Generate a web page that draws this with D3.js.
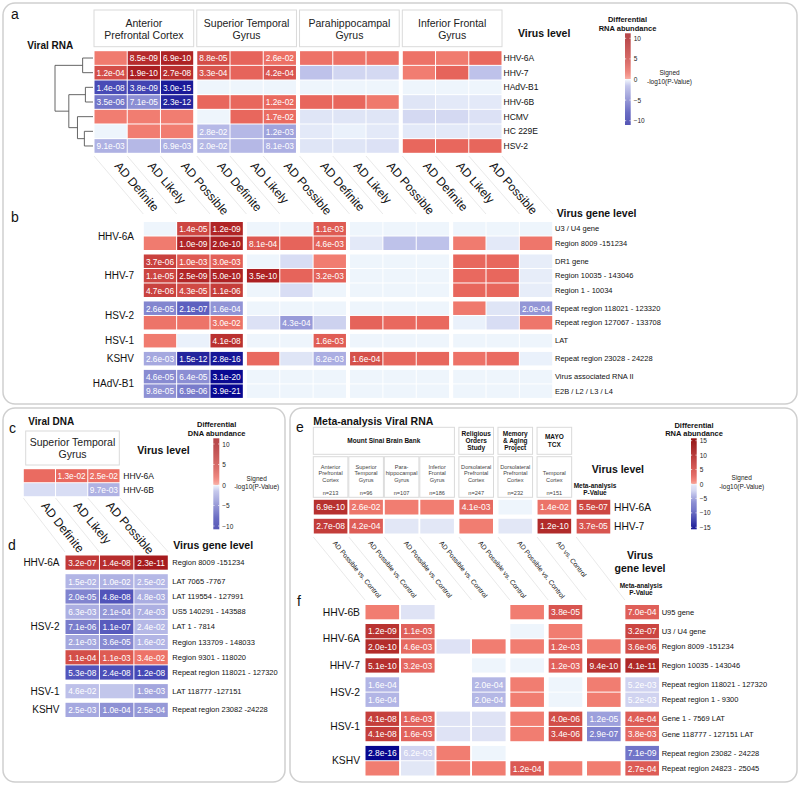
<!DOCTYPE html>
<html><head><meta charset="utf-8">
<script src="https://cdn.jsdelivr.net/npm/d3@7"></script>
<style>body{margin:0;background:#fff}svg{display:block;font-family:"Liberation Sans",Arial,Helvetica,sans-serif}</style>
</head><body><svg id="c" width="800" height="785"></svg>
<script>
// ---------------- DATA ----------------
const regions = ["Anterior\nPrefrontal Cortex", "Superior Temporal\nGyrus", "Parahippocampal\nGyrus", "Inferior Frontal\nGyrus"];
const diagnoses = ["AD Definite", "AD Likely", "AD Possible"];

// panel a : virus level, viral RNA
const virusesA = ["HHV-6A", "HHV-7", "HAdV-B1", "HHV-6B", "HCMV", "HC 229E", "HSV-2"];
const valuesA = [
  [1.1, 8.07, 9.16, 4.06, 2.2, 1.59, 1.5, 1.5, 1.5, 1.5, 1.1, 1.9],
  [3.92, 9.72, 7.57, 3.48, 2.2, 3.38, -1.3, -0.8, -0.7, 1.0, 2.2, -1.3],
  [-7.85, -8.42, -14.52, 0, 0, 0, 0, 0, 0, 0, 0, 0],
  [-5.46, -4.15, -11.64, 2.0, 2.0, 1.92, 2.0, 2.0, 1.2, -0.4, -0.3, -0.3],
  [1.0, 1.0, 1.0, 0, 2.0, 1.77, -0.4, -0.4, -0.4, -0.7, -0.7, -0.5],
  [0, 1.0, 1.0, -1.55, -1.6, -2.92, -0.3, -0.1, -0.3, -0.3, -0.3, -0.3],
  [-2.04, -1.6, -2.16, -1.7, -1.6, -2.09, -0.4, -0.4, -0.5, 2.0, 2.0, 2.1]
];
const labelsA = [
  ["", "8.5e-09", "6.9e-10", "8.8e-05", "", "2.6e-02", "", "", "", "", "", ""],
  ["1.2e-04", "1.9e-10", "2.7e-08", "3.3e-04", "", "4.2e-04", "", "", "", "", "", ""],
  ["1.4e-08", "3.8e-09", "3.0e-15", "", "", "", "", "", "", "", "", ""],
  ["3.5e-06", "7.1e-05", "2.3e-12", "", "", "1.2e-02", "", "", "", "", "", ""],
  ["", "", "", "", "", "1.7e-02", "", "", "", "", "", ""],
  ["", "", "", "2.8e-02", "", "1.2e-03", "", "", "", "", "", ""],
  ["9.1e-03", "", "6.9e-03", "2.0e-02", "", "8.1e-03", "", "", "", "", "", ""]
];
// dendrogram of panel a rows (merge heights)
const dendroA = {h: 1.1, children: [
  {h: 0.3, children: [{leaf: "HHV-6A"}, {leaf: "HHV-7"}]},
  {h: 0.7, children: [
    {h: 0.22, children: [{leaf: "HAdV-B1"}, {leaf: "HHV-6B"}]},
    {h: 0.45, children: [{leaf: "HCMV"}, {h: 0.25, children: [{leaf: "HC 229E"}, {leaf: "HSV-2"}]}]}
  ]}
]};

// panel b : virus gene level
const genesB = ["U3 / U4 gene", "Region 8009 -151234", "DR1 gene", "Region 10035 - 143046", "Region 1 - 10034",
  "Repeat region 118021 - 123320", "Repeat region 127067 - 133708", "LAT", "Repeat region 23028 - 24228",
  "Virus associated RNA II", "E2B / L2 / L3 / L4"];
const geneVirusB = ["HHV-6A", "HHV-6A", "HHV-7", "HHV-7", "HHV-7", "HSV-2", "HSV-2", "HSV-1", "KSHV", "HAdV-B1", "HAdV-B1"];
const valuesB = [
  [0, 4.85, 8.92, 0, 0, 2.96, 0, 0, 0, 0, 0, 0],
  [1.1, 9.0, 9.7, 3.09, 2.2, 2.34, -0.3, -1.3, -1.3, 1.1, -0.3, 1.3],
  [5.43, 3.0, 2.52, 0, -0.6, 1.0, 0, 0, 0, 2.0, 2.0, -0.2],
  [4.96, 8.6, 9.3, 9.46, 2.2, 2.49, 0, 0, 0, 1.9, 2.0, -0.2],
  [5.33, 4.37, 5.96, 0, -0.6, 0, 0, 0, 0, 2.0, 2.0, -0.2],
  [-4.59, -6.68, -3.8, 0, 0, 0, 0, 0, 0, 1.2, -0.4, -3.7],
  [1.4, 1.4, 1.52, -0.5, -3.37, -0.9, 2.3, 1.9, 1.9, -0.1, -0.6, 1.3],
  [1.1, -0.1, 7.39, 0, 0, 2.8, 0, 0, 0, 0, 0, 0],
  [-2.59, -11.82, -15.55, 1.9, -0.4, -2.21, 3.8, 2.1, 2.1, 1.5, 1.8, -0.1],
  [-4.34, -4.19, -19.51, 0, 0, 0, 0, 0, 0, 0, 0, 0],
  [-4.01, -5.16, -20.41, 0, 0, 0, 0, 0, 0, 0, 0, 0]
];
const labelsB = [
  ["", "1.4e-05", "1.2e-09", "", "", "1.1e-03", "", "", "", "", "", ""],
  ["", "1.0e-09", "2.0e-10", "8.1e-04", "", "4.6e-03", "", "", "", "", "", ""],
  ["3.7e-06", "1.0e-03", "3.0e-03", "", "", "", "", "", "", "", "", ""],
  ["1.1e-05", "2.5e-09", "5.0e-10", "3.5e-10", "", "3.2e-03", "", "", "", "", "", ""],
  ["4.7e-06", "4.3e-05", "1.1e-06", "", "", "", "", "", "", "", "", ""],
  ["2.6e-05", "2.1e-07", "1.6e-04", "", "", "", "", "", "", "", "", "2.0e-04"],
  ["", "", "3.0e-02", "", "4.3e-04", "", "", "", "", "", "", ""],
  ["", "", "4.1e-08", "", "", "1.6e-03", "", "", "", "", "", ""],
  ["2.6e-03", "1.5e-12", "2.8e-16", "", "", "6.2e-03", "1.6e-04", "", "", "", "", ""],
  ["4.6e-05", "6.4e-05", "3.1e-20", "", "", "", "", "", "", "", "", ""],
  ["9.8e-05", "6.9e-06", "3.9e-21", "", "", "", "", "", "", "", "", ""]
];

// panel c : viral DNA, virus level
const regionC = "Superior Temporal\nGyrus";
const virusesC = ["HHV-6A", "HHV-6B"];
const valuesC = [[1.8, 1.89, 1.6], [-0.6, -0.6, -2.01]];
const labelsC = [["", "1.3e-02", "2.5e-02"], ["", "", "9.7e-03"]];

// panel d : viral DNA, gene level
const genesD = ["Region 8009 -151234", "LAT 7065 -7767", "LAT 119554 - 127991", "US5 140291 - 143588", "LAT 1 - 7814",
  "Region 133709 - 148033", "Region 9301 - 118020", "Repeat region 118021 - 127320", "LAT 118777 -127151", "Repeat region 23082 -24228"];
const geneVirusD = ["HHV-6A", "HSV-2", "HSV-2", "HSV-2", "HSV-2", "HSV-2", "HSV-2", "HSV-2", "HSV-1", "KSHV"];
const valuesD = [[6.49, 7.85, 10.64], [-1.82, -2.0, -1.6], [-4.7, -7.32, -2.32], [-2.2, -3.68, -2.13], [-5.15, -6.96, -1.62],
  [-2.68, -4.44, -1.8], [3.96, 2.96, 1.47], [-7.28, -7.62, -7.92], [-1.34, -1.2, -2.72], [-2.6, -4.0, -3.6]];
const labelsD = [["3.2e-07", "1.4e-08", "2.3e-11"], ["1.5e-02", "1.0e-02", "2.5e-02"], ["2.0e-05", "4.8e-08", "4.8e-03"],
  ["6.3e-03", "2.1e-04", "7.4e-03"], ["7.1e-06", "1.1e-07", "2.4e-02"], ["2.1e-03", "3.6e-05", "1.6e-02"],
  ["1.1e-04", "1.1e-03", "3.4e-02"], ["5.3e-08", "2.4e-08", "1.2e-08"], ["4.6e-02", "", "1.9e-03"], ["2.5e-03", "1.0e-04", "2.5e-04"]];

// panel e : meta-analysis virus level
const studiesE = [["Mount Sinai Brain Bank"], ["Religious", "Orders", "Study"], ["Memory", "& Aging", "Project"], ["MAYO", "TCX"]];
const studyOfColE = [0, 0, 0, 0, 1, 2, 3, 4];   // column 7 = meta-analysis
const tissuesE = [["Anterior", "Prefrontal", "Cortex"], ["Superior", "Temporal", "Gyrus"], ["Para-", "hippocampal", "Gyrus"],
  ["Inferior", "Frontal", "Gyrus"], ["Dorsolateral", "Prefrontal", "Cortex"], ["Dorsolateral", "Prefrontal", "Cortex"], ["Temporal", "Cortex"]];
const sampleNE = [213, 96, 107, 186, 247, 232, 151];
const contrastsE = ["AD Possible vs. Control", "AD Possible vs. Control", "AD Possible vs. Control", "AD Possible vs. Control",
  "AD Possible vs. Control", "AD Possible vs. Control", "AD vs. Control"];
const virusesE = ["HHV-6A", "HHV-7"];
const valuesE = [[9.16, 1.59, 1.2, 1.2, 2.39, 0, 1.85, 6.26], [7.57, 3.38, -0.4, -0.4, 1.2, -0.4, 9.92, 4.43]];
const labelsE = [["6.9e-10", "2.6e-02", "", "", "4.1e-03", "", "1.4e-02", "5.5e-07"], ["2.7e-08", "4.2e-04", "", "", "", "", "1.2e-10", "3.7e-05"]];

// panel f : meta-analysis gene level (null = not measured)
const genesF = ["U95 gene", "U3 / U4 gene", "Region 8009 -151234", "Region 10035 - 143046", "Repeat region 118021 - 127320",
  "Repeat region 1 - 9300", "Gene 1 - 7569 LAT", "Gene 118777 - 127151 LAT", "Repeat region 23082 - 24228", "Repeat region 24823 - 25045"];
const geneVirusF = ["HHV-6B", "HHV-6A", "HHV-6A", "HHV-7", "HSV-2", "HSV-2", "HSV-1", "HSV-1", "KSHV", "KSHV"];
const valuesF = [
  [1.2, -0.5, null, null, 1.2, 4.42, null, 3.15],
  [8.92, 2.96, null, null, 0, 1.2, null, 6.49],
  [9.7, 2.34, -0.6, 1.2, 1.2, 2.92, 1.2, 5.44],
  [9.29, 2.49, null, 0, 0, 2.92, 9.03, 10.39],
  [-3.8, null, null, -3.7, 1.2, 0, 1.2, -2.28],
  [-3.8, null, null, -3.7, 1.2, 0, 1.2, -2.28],
  [7.39, 2.8, -0.5, -0.5, 1.2, 5.4, -4.92, 3.36],
  [7.39, 2.8, -0.5, -0.5, 1.2, 5.47, -6.54, 2.42],
  [-15.55, -2.21, 1.2, 0, null, null, null, -8.15],
  [1.2, -0.4, 1.2, 1.2, 3.92, 1.2, 1.2, 3.57]
];
const labelsF = [
  ["", "", "", "", "", "3.8e-05", "", "7.0e-04"],
  ["1.2e-09", "1.1e-03", "", "", "", "", "", "3.2e-07"],
  ["2.0e-10", "4.6e-03", "", "", "", "1.2e-03", "", "3.6e-06"],
  ["5.1e-10", "3.2e-03", "", "", "", "1.2e-03", "9.4e-10", "4.1e-11"],
  ["1.6e-04", "", "", "2.0e-04", "", "", "", "5.2e-03"],
  ["1.6e-04", "", "", "2.0e-04", "", "", "", "5.2e-03"],
  ["4.1e-08", "1.6e-03", "", "", "", "4.0e-06", "1.2e-05", "4.4e-04"],
  ["4.1e-08", "1.6e-03", "", "", "", "3.4e-06", "2.9e-07", "3.8e-03"],
  ["2.8e-16", "6.2e-03", "", "", "", "", "", "7.1e-09"],
  ["", "", "", "", "1.2e-04", "", "", "2.7e-04"]
];
const ticksAB = [10, 5, 0, -5, -10];
const ticksEF = [15, 10, 5, 0, -5, -10, -15];

// ---------------- DRAWING ----------------
const svg = d3.select("#c");
const defs = svg.append("defs");

function diverging(pd, pr, nd, nr) {
  const pos = d3.scaleLinear().domain(pd).range(pr).clamp(true);
  const neg = d3.scaleLinear().domain(nd).range(nr).clamp(true);
  return v => v > 0 ? pos(v) : neg(v);
}
const colorAB = diverging([0, 1, 2, 4, 7, 10, 20], ["#f6a195", "#f17d71", "#e8675d", "#d34d48", "#bd3433", "#a81c1f", "#8a0a0a"],
  [0, -1.5, -4, -8, -12, -21], ["#eef5fc", "#b7bae7", "#8e91d4", "#4548b5", "#22229c", "#050590"]);
const colorEF = diverging([0, 1.2, 3, 6, 9, 12, 16], ["#f6a195", "#f17d71", "#e0605a", "#cf4944", "#b83230", "#a21c1c", "#8b0000"],
  [0, -0.5, -2.3, -4, -6.5, -9, -16], ["#eef5fc", "#dfe3f5", "#d0d3f0", "#aeb1e3", "#8083cf", "#6a6dc4", "#00008b"]);

// panel frames
[[3, 3, 794, 401], [3, 408, 282, 374], [290, 408, 507, 374]].forEach(p => {
  svg.append("rect").attr("x", p[0]).attr("y", p[1]).attr("width", p[2]).attr("height", p[3])
    .attr("rx", 12).attr("fill", "none").attr("stroke", "#cfcfcf").attr("stroke-width", 1.5);
});

function txt(g, x, y, s, fs, o = {}) {
  const t = g.append("text").attr("x", x).attr("y", y).attr("font-size", fs).attr("fill", o.fill || "#111").text(s);
  if (o.bold) t.attr("font-weight", "bold");
  if (o.anchor) t.attr("text-anchor", o.anchor);
  if (o.central) t.attr("dominant-baseline", "central");
  return t;
}
function box(g, x, y, w, h) {
  g.append("rect").attr("x", x).attr("y", y).attr("width", w).attr("height", h)
    .attr("fill", "#fff").attr("stroke", "#dadada").attr("stroke-width", 1);
}
function drawHeat(g, values, labels, colX, colW, rowY, rowH, color, fs) {
  const cells = [];
  values.forEach((row, r) => row.forEach((v, c) => {
    if (v === null) return;
    cells.push({x: colX(c), y: rowY(r), w: colW, h: rowH, v, lab: labels[r][c]});
  }));
  g.append("g").selectAll("rect").data(cells).join("rect")
    .attr("x", d => d.x + 0.5).attr("y", d => d.y + 0.5)
    .attr("width", d => d.w - 1).attr("height", d => d.h - 1)
    .attr("fill", d => color(d.v));
  g.append("g").selectAll("text").data(cells.filter(d => d.lab)).join("text")
    .attr("x", d => d.x + d.w / 2).attr("y", d => d.y + d.h / 2 + 0.3)
    .attr("text-anchor", "middle").attr("dominant-baseline", "central")
    .attr("font-size", fs).attr("fill", "#fff").text(d => d.lab);
}
function groupIndex(arr) {
  let g = -1, prev = null;
  return arr.map(v => { if (v !== prev) { g++; prev = v; } return g; });
}
function groupLabels(g, per, rowY, rowH, x, fs) {
  d3.groups(per.map((v, i) => ({v, i})), d => d.v).forEach(([name, rows]) => {
    const y0 = rowY(rows[0].i), y1 = rowY(rows[rows.length - 1].i) + rowH;
    txt(g, x, (y0 + y1) / 2, name, fs, {anchor: "end", central: true});
  });
}
function diag(g, tops, bots, yTop, yBot, texts, fs, tOff, lineTops, lineBots) {
  lineTops.forEach((xt, i) => g.append("line").attr("x1", xt).attr("y1", yTop).attr("x2", lineBots[i]).attr("y2", yBot)
    .attr("stroke", "#e3e3e3").attr("stroke-width", 0.8));
  texts.forEach((t, i) => {
    const dx = bots[i] - tops[i], dy = yBot - yTop, L = Math.hypot(dx, dy);
    const ang = Math.atan2(dy, dx) * 180 / Math.PI;
    const x = tops[i] + dx / L * tOff, y = yTop + dy / L * tOff;
    g.append("text").attr("transform", `translate(${x},${y}) rotate(${ang})`)
      .attr("font-size", fs).attr("dominant-baseline", "central").attr("fill", "#111").text(t);
  });
}
let gid = 0;
function legend(g, o) {
  const id = "lg" + (gid++);
  const vTop = o.tickY.invert(o.yTop), vBot = o.tickY.invert(o.yBot);
  const off = v => (vTop - v) / (vTop - vBot);
  const stops = [];
  const n = 40;
  for (let i = 0; i <= n; i++) { const v = vTop + (0.0001 - vTop) * i / n; stops.push([off(v), o.color(v)]); }
  for (let i = 0; i <= n; i++) { const v = vBot * i / n; stops.push([off(v), o.color(v)]); }
  defs.append("linearGradient").attr("id", id).attr("x1", 0).attr("y1", 0).attr("x2", 0).attr("y2", 1)
    .selectAll("stop").data(stops).join("stop").attr("offset", d => d[0]).attr("stop-color", d => d[1]);
  g.append("rect").attr("x", o.x).attr("y", o.yTop).attr("width", o.w).attr("height", o.yBot - o.yTop)
    .attr("fill", `url(#${id})`).attr("opacity", o.opacity);
  o.ticks.forEach(t => {
    const y = o.tickY(t);
    g.append("line").attr("x1", o.x).attr("x2", o.x + 1.2).attr("y1", y).attr("y2", y).attr("stroke", "#fff").attr("stroke-width", 0.7);
    g.append("line").attr("x1", o.x + o.w - 1.2).attr("x2", o.x + o.w).attr("y1", y).attr("y2", y).attr("stroke", "#fff").attr("stroke-width", 0.7);
    txt(g, o.x + o.w + 3, y, t < 0 ? "\u2212" + (-t) : String(t), 6.5, {central: true, fill: "#222"});
  });
  o.title.forEach((s, i) => txt(g, o.titleX, o.titleY[i], s, 7.5, {bold: true, anchor: "middle"}));
  txt(g, o.sigX, o.sigY[0], "Signed", 6.5, {anchor: "middle", fill: "#222"});
  txt(g, o.sigX, o.sigY[1], "-log10(P-Value)", 6.5, {anchor: "middle", fill: "#222"});
}

// ===== Panel a =====
const gA = svg.append("g");
txt(gA, 11, 19, "a", 14);
txt(gA, 27.3, 48.5, "Viral RNA", 10, {bold: true});
const groupA = d3.scaleBand().domain(regions).range([94, 502]).paddingInner(0.03);
const diagA = d3.scaleBand().domain(diagnoses).range([0, groupA.bandwidth()]);
const colA = i => groupA(regions[Math.floor(i / 3)]) + diagA(diagnoses[i % 3]);
const cwA = diagA.bandwidth();
const rowA = d3.scaleBand().domain(virusesA).range([50.7, 153.3]);
regions.forEach(r => {
  box(gA, groupA(r), 10, groupA.bandwidth(), 36.7);
  r.split("\n").forEach((s, i) => txt(gA, groupA(r) + groupA.bandwidth() / 2, 27 + i * 11.7, s, 10.5, {anchor: "middle", fill: "#222"}));
});
drawHeat(gA, valuesA, labelsA, colA, cwA, r => rowA(virusesA[r]), rowA.bandwidth(), colorAB, 8.3);
virusesA.forEach(v => txt(gA, 503.5, rowA(v) + rowA.bandwidth() / 2, v, 8.5, {central: true}));
txt(gA, 518, 37, "Virus level", 10.5, {bold: true});
// dendrogram
const hX = d3.scaleLinear().domain([0, 1.1]).range([93, 55]);
const root = d3.hierarchy(dendroA);
root.eachAfter(n => {
  n.px = hX(n.data.h || 0);
  n.py = n.children ? d3.mean(n.children, c => c.py) : rowA(n.data.leaf) + rowA.bandwidth() / 2;
});
root.each(n => {
  if (!n.children) return;
  const ys = n.children.map(c => c.py);
  gA.append("line").attr("x1", n.px).attr("x2", n.px).attr("y1", d3.min(ys)).attr("y2", d3.max(ys)).attr("stroke", "#555").attr("stroke-width", 0.9);
  n.children.forEach(c => gA.append("line").attr("x1", n.px).attr("x2", c.px).attr("y1", c.py).attr("y2", c.py).attr("stroke", "#555").attr("stroke-width", 0.9));
});
legend(gA, {x: 625, w: 5.7, yTop: 33.3, yBot: 125, tickY: d3.scaleLinear().domain([-10, 10]).range([120.7, 38.3]),
  ticks: ticksAB, color: colorAB, opacity: 0.8, title: ["Differential", "RNA abundance"], titleX: 627.5, titleY: [22, 30.5],
  sigX: 669.5, sigY: [75, 83.5]});

// ===== Panel b =====
txt(gA, 11, 222, "b", 14);
const groupB = d3.scaleBand().domain(regions).range([143.3, 552.7]).paddingInner(0.03);
const diagB = d3.scaleBand().domain(diagnoses).range([0, groupB.bandwidth()]);
const colB = i => groupB(regions[Math.floor(i / 3)]) + diagB(diagnoses[i % 3]);
const cwB = diagB.bandwidth();
const gIdxB = groupIndex(geneVirusB);
const yB = d3.scaleLinear().domain([0, 1]).range([221.5, 236]);
const rowB = r => yB(r + gIdxB[r] * 0.24);
const rhB = 14.5;
drawHeat(gA, valuesB, labelsB, colB, cwB, rowB, rhB, colorAB, 8.3);
groupLabels(gA, geneVirusB, rowB, rhB, 134, 10);
genesB.forEach((s, r) => txt(gA, 555, rowB(r) + rhB / 2, s, 7.5, {central: true}));
txt(gA, 556.7, 216.5, "Virus gene level", 10.5, {bold: true});
// rotated condition labels between a and b
{
  const idx = d3.range(12);
  const tops = idx.map(i => colA(i) + cwA / 2), bots = idx.map(i => colB(i) + cwB / 2);
  const lt = idx.map(i => colA(i)).concat([colA(11) + cwA]);
  const lb = idx.map(i => colB(i)).concat([colB(11) + cwB]);
  diag(gA, tops, bots, 156, 214, idx.map(i => diagnoses[i % 3]), 12, 10, lt, lb);
}

// ===== Panel c =====
const gC = svg.append("g");
txt(gC, 9, 432.5, "c", 14);
txt(gC, 28.3, 424.5, "Viral DNA", 10, {bold: true});
const xC = d3.scaleBand().domain(diagnoses).range([23.3, 120]);
const rowC = d3.scaleBand().domain(virusesC).range([468.7, 496.7]);
box(gC, 25.7, 431, 93.6, 34);
regionC.split("\n").forEach((s, i) => txt(gC, 72.5, 446.3 + i * 11.4, s, 10.5, {anchor: "middle", fill: "#222"}));
drawHeat(gC, valuesC, labelsC, i => xC(diagnoses[i]), xC.bandwidth(), r => rowC(virusesC[r]), rowC.bandwidth(), colorAB, 8.3);
virusesC.forEach(v => txt(gC, 123.3, rowC(v) + rowC.bandwidth() / 2, v, 8.5, {central: true}));
txt(gC, 137.3, 454, "Virus level", 10.5, {bold: true});
legend(gC, {x: 213.3, w: 6, yTop: 438.3, yBot: 529.3, tickY: d3.scaleLinear().domain([-10, 10]).range([526, 444]),
  ticks: ticksAB, color: colorAB, opacity: 0.8, title: ["Differential", "DNA abundance"], titleX: 216.7, titleY: [427, 435.5],
  sigX: 256.7, sigY: [480.5, 488.5]});

// ===== Panel d =====
txt(gC, 8, 550, "d", 14);
txt(gC, 173.3, 548.5, "Virus gene level", 10.5, {bold: true});
const xD = d3.scaleBand().domain(diagnoses).range([65, 168.3]);
const gIdxD = groupIndex(geneVirusD);
const yD = d3.scaleLinear().domain([0, 1]).range([555, 570.2]);
const rowD = r => yD(r + gIdxD[r] * 0.23);
const rhD = 15.2;
drawHeat(gC, valuesD, labelsD, i => xD(diagnoses[i]), xD.bandwidth(), rowD, rhD, colorAB, 8.3);
groupLabels(gC, geneVirusD, rowD, rhD, 59.5, 10);
genesD.forEach((s, r) => txt(gC, 172.3, rowD(r) + rhD / 2, s, 7.5, {central: true}));
{
  const tops = diagnoses.map(d => xC(d) + xC.bandwidth() / 2), bots = diagnoses.map(d => xD(d) + xD.bandwidth() / 2);
  const lt = diagnoses.map(d => xC(d)).concat([xC("AD Possible") + xC.bandwidth()]);
  const lb = diagnoses.map(d => xD(d)).concat([xD("AD Possible") + xD.bandwidth()]);
  diag(gC, tops, bots, 498, 552, diagnoses, 12, 7, lt, lb);
}

// ===== Panel e =====
const gE = svg.append("g");
txt(gE, 296, 432, "e", 14);
txt(gE, 313.3, 424.5, "Meta-analysis Viral RNA", 10.5, {bold: true});
const xE = d3.scaleLinear().domain([0, 1]).range([313.3, 348.8]);
const colE = i => xE(i + studyOfColE[i] * 0.101);
const xF = d3.scaleLinear().domain([0, 1]).range([365, 400.5]);
const colF = i => xF(i + studyOfColE[i] * 0.08);
const cwEF = 34.6;
// study boxes
studiesE.forEach((lines, s) => {
  const cols = d3.range(8).filter(i => studyOfColE[i] === s);
  const x0 = colE(cols[0]), x1 = colE(cols[cols.length - 1]) + cwEF;
  box(gE, x0, 427.3, x1 - x0, 27);
  const cy = 440.8, n = lines.length;
  lines.forEach((t, i) => txt(gE, (x0 + x1) / 2, cy + (i - (n - 1) / 2) * 7.3 + 2.3, t, 6.5, {bold: true, anchor: "middle"}));
});
tissuesE.forEach((lines, i) => {
  const x0 = colE(i);
  box(gE, x0, 456.7, cwEF, 40.6);
  const n = lines.length;
  lines.forEach((t, k) => txt(gE, x0 + cwEF / 2, 482 - (n - 1 - k) * 6.7, t, 5.6, {anchor: "middle", fill: "#444"}));
  txt(gE, x0 + cwEF / 2, 494.7, "n=" + sampleNE[i], 5.6, {anchor: "middle", fill: "#444"});
});
const yE = d3.scaleLinear().domain([0, 1]).range([499.3, 518.3]);
drawHeat(gE, valuesE, labelsE, colE, cwEF, r => yE(r), 15.7, colorEF, 8.5);
virusesE.forEach((v, r) => txt(gE, 614, yE(r) + 7.85, v, 10.3, {central: true}));
txt(gE, 591.7, 472.5, "Virus level", 10.5, {bold: true});
txt(gE, 595, 487.5, "Meta-analysis", 6.5, {bold: true, anchor: "middle"});
txt(gE, 595, 495, "P-Value", 6.5, {bold: true, anchor: "middle"});
legend(gE, {x: 691, w: 5.7, yTop: 438.3, yBot: 529.3, tickY: d3.scaleLinear().domain([-15, 15]).range([527.3, 440.7]),
  ticks: ticksEF, color: colorEF, opacity: 0.92, title: ["Differential", "RNA abundance"], titleX: 694, titleY: [427.5, 436],
  sigX: 741.7, sigY: [480, 488.5]});

// ===== Panel f =====
txt(gE, 297, 606, "f", 14);
const gIdxF = groupIndex(geneVirusF);
const yF = d3.scaleLinear().domain([0, 1]).range([604.5, 619.8]);
const rowF = r => yF(r + gIdxF[r] * 0.242);
const rhF = 15.3;
drawHeat(gE, valuesF, labelsF, colF, cwEF, rowF, rhF, colorEF, 8.5);
groupLabels(gE, geneVirusF, rowF, rhF, 360, 10.3);
genesF.forEach((s, r) => txt(gE, 661.7, rowF(r) + rhF / 2, s, 7.5, {central: true}));
txt(gE, 640, 559, "Virus", 10.5, {bold: true, anchor: "middle"});
txt(gE, 640, 571.5, "gene level", 10.5, {bold: true, anchor: "middle"});
txt(gE, 641, 587.5, "Meta-analysis", 6.5, {bold: true, anchor: "middle"});
txt(gE, 641, 595, "P-Value", 6.5, {bold: true, anchor: "middle"});
{
  const idx = d3.range(7);
  const tops = idx.map(i => colE(i) + cwEF / 2), bots = idx.map(i => colF(i) + cwEF / 2);
  const lt = d3.range(8).map(i => colE(i)), lb = d3.range(8).map(i => colF(i));
  diag(gE, tops, bots, 537, 600, contrastsE, 6.8, 6, lt, lb);
}
</script></body></html>
